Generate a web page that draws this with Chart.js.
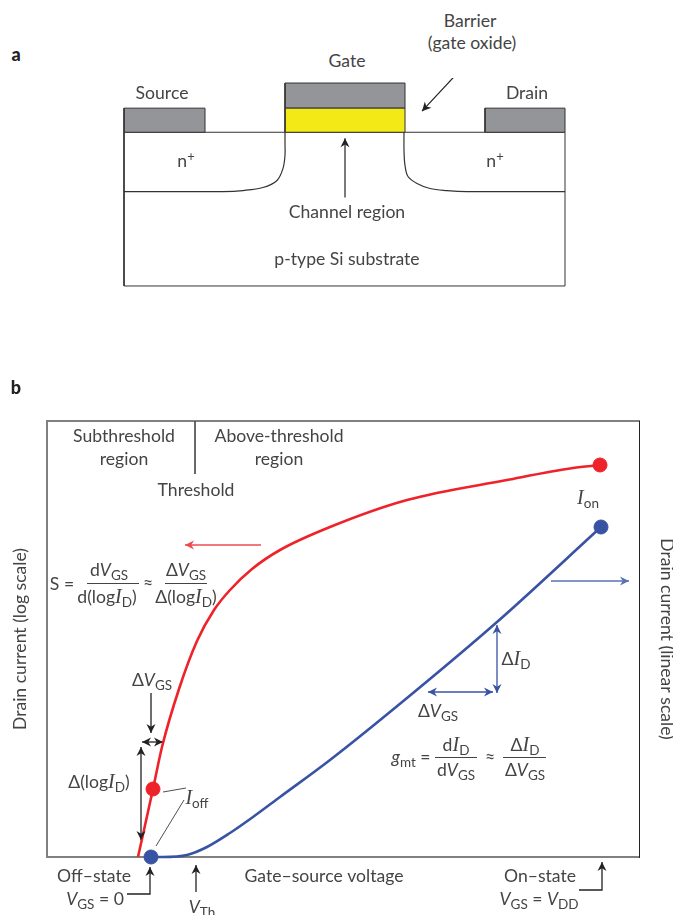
<!DOCTYPE html>
<html>
<head>
<meta charset="utf-8">
<title>MOSFET</title>
<script src="https://cdn.jsdelivr.net/npm/chart.js@4"></script>
<style>
body { margin:0; background:#fff; width:673px; height:915px; position:relative; overflow:hidden;
       font-family:Lato,"Open Sans",sans-serif; font-size:17.6px; color:#444; }
canvas { position:absolute; }
.t { position:absolute; transform:translate(-50%,-50%); white-space:nowrap; line-height:1; }
.b { font-weight:900; color:#222; font-size:18px; }
.r { position:absolute; height:1px; background:#444; }
i { font-style:italic; }
i.s { font-family:"Liberation Serif",serif; font-size:20px; }
sub { font-size:13.5px; vertical-align:-4px; line-height:0; }
sup { font-size:13px; vertical-align:6px; line-height:0; }
</style>
</head>
<body>
<canvas id="schema" width="453" height="212" style="left:120px;top:78px"></canvas>
<canvas id="courbes" width="673" height="535" style="left:0;top:380px"></canvas>

<div class="t b" style="left:16px;top:54px">a</div>
<div class="t b" style="left:16px;top:387px">b</div>
<div class="t" style="left:470px;top:21px">Barrier</div>
<div class="t" style="left:472px;top:43px">(gate oxide)</div>
<div class="t" style="left:347px;top:61px">Gate</div>
<div class="t" style="left:162px;top:93px">Source</div>
<div class="t" style="left:527px;top:93px">Drain</div>
<div class="t" style="left:186px;top:161px">n<sup>+</sup></div>
<div class="t" style="left:495px;top:161px">n<sup>+</sup></div>
<div class="t" style="left:347px;top:212px">Channel region</div>
<div class="t" style="left:347px;top:259px">p-type Si substrate</div>

<div class="t" style="left:124px;top:436px">Subthreshold</div>
<div class="t" style="left:124px;top:459px">region</div>
<div class="t" style="left:279px;top:436px">Above-threshold</div>
<div class="t" style="left:279px;top:459px">region</div>
<div class="t" style="left:196px;top:490px">Threshold</div>

<div class="t" style="left:62px;top:584px">S =</div>
<div class="t" style="left:109px;top:570px">d<i>V</i><sub>GS</sub></div>
<div class="r" style="left:87px;top:583px;width:52px"></div>
<div class="t" style="left:107px;top:596px">d(log<i class="s">I</i><sub>D</sub>)</div>
<div class="t" style="left:148px;top:583px">≈</div>
<div class="t" style="left:186px;top:570px">Δ<i>V</i><sub>GS</sub></div>
<div class="r" style="left:165px;top:583px;width:42px"></div>
<div class="t" style="left:186px;top:596px">Δ(log<i class="s">I</i><sub>D</sub>)</div>

<div class="t" style="left:152px;top:680px">Δ<i>V</i><sub>GS</sub></div>
<div class="t" style="left:99px;top:781px">Δ(log<i class="s">I</i><sub>D</sub>)</div>
<div class="t" style="left:197px;top:797px"><i class="s">I</i><sub>off</sub></div>
<div class="t" style="left:95px;top:899px"><i>V</i><sub>GS</sub> = 0</div>
<div class="t" style="left:202px;top:907px"><i>V</i><sub>Th</sub></div>
<div class="t" style="left:588px;top:497px"><i class="s">I</i><sub>on</sub></div>
<div class="t" style="left:516px;top:658px">Δ<i class="s">I</i><sub>D</sub></div>
<div class="t" style="left:438px;top:711px">Δ<i>V</i><sub>GS</sub></div>

<div class="t" style="left:411px;top:757px"><i>g</i><sub>mt</sub> =</div>
<div class="t" style="left:456px;top:744px">d<i class="s">I</i><sub>D</sub></div>
<div class="r" style="left:435px;top:757px;width:42px"></div>
<div class="t" style="left:456px;top:770px">d<i>V</i><sub>GS</sub></div>
<div class="t" style="left:490px;top:757px">≈</div>
<div class="t" style="left:525px;top:744px">Δ<i class="s">I</i><sub>D</sub></div>
<div class="r" style="left:503px;top:757px;width:43px"></div>
<div class="t" style="left:525px;top:770px">Δ<i>V</i><sub>GS</sub></div>
<div class="t" style="left:539px;top:899px"><i>V</i><sub>GS</sub> = <i>V</i><sub>DD</sub></div>

<script>
// --- courbes (b) : x = tension grille, y = courant, unites arbitraires
var rougeX = [91, 106, 115, 132, 150, 167, 183, 205, 233, 283, 360, 460, 526, 553];
var rougeY = [0, 68, 110, 168, 216, 247, 267, 288, 307, 330, 357, 377, 389, 392];
var bleuX = [104, 116, 140, 160, 183, 206, 233, 283, 360, 450, 554];
var bleuY = [0, 0, 2, 10, 24, 40, 60, 97, 159, 235, 330];
var pointsRougeX = [106, 553];
var pointsRougeY = [68, 392];
var pointsBleuX = [104, 554];
var pointsBleuY = [0, 330];
var xTicks = [47, 277, 493];
var xTickLabels = ["Off–state", "Gate–source voltage", "On–state"];
var seuilX = [148, 148];
var seuilY = [436, 383];

// fleches du panneau b : [x...], [y...]
var flecheRouge = [[214, 138], [312, 312]];
var flecheBleue = [[504, 582], [276, 276]];
var deltaIdBleu = [[450, 450], [232, 164]];
var deltaVgsBleu = [[381, 446], [165, 165]];
var deltaVgsBas = [[104, 104], [164, 124]];
var deltaVgsNoir = [[95, 116], [115, 115]];
var deltaLogNoir = [[94, 94], [110, 17]];
var ioffA = [[116, 139], [65, 69]];
var ioffB = [[109, 137], [11, 57]];
var flecheVgs0 = [[80, 103, 103], [-37, -37, -10]];
var flecheVth = [[149, 149], [-35, -8]];
var flecheOn = [[532, 555, 555], [-33, -33, -5]];

// --- schema (a) : origine en bas a gauche du substrat
var substratX = [0, 441, 441, 0, 0];
var substratY = [0, 0, 153, 153, 0];
var sourceX = [0, 81, 81, 0, 0];
var sourceY = [153, 153, 177, 177, 153];
var drainX = [361, 441, 441, 361, 361];
var drainY = [153, 153, 177, 177, 153];
var oxydeX = [161, 281, 281, 161, 161];
var oxydeY = [153, 153, 177, 177, 153];
var grilleX = [161, 281, 281, 161, 161];
var grilleY = [177, 177, 202, 202, 177];
var jonctionGX = [0, 99, 119, 139, 153, 159, 161, 161, 161];
var jonctionGY = [94, 94, 95, 98, 105, 117, 130, 142, 153];
var jonctionDX = [441, 343, 323, 306, 293, 284, 281, 280, 280];
var jonctionDY = [94, 94, 95, 97, 102, 109, 120, 135, 153];
var flecheCanal = [[221, 221], [88, 147]];
var flecheBarriere = [[342, 298], [221, 174]];

var NOIR = "#222";
var ROUGE = "#ee2229";
var BLEU = "#3953a4";

// pointe de fleche dessinee a partir des points du dataset
function pointe(ctx, a, b, couleur, taille) {
    var ang = Math.atan2(b.y - a.y, b.x - a.x);
    ctx.save();
    ctx.translate(b.x, b.y);
    ctx.rotate(ang);
    ctx.fillStyle = couleur;
    ctx.beginPath();
    ctx.moveTo(0, 0);
    ctx.lineTo(-taille, -taille * 0.5);
    ctx.lineTo(-taille * 0.7, 0);
    ctx.lineTo(-taille, taille * 0.5);
    ctx.closePath();
    ctx.fill();
    ctx.restore();
}

var pluginFleches = {
    id: "fleches",
    afterDatasetsDraw: function (chart) {
        chart.data.datasets.forEach(function (ds, i) {
            if (!ds.fleche) return;
            var pts = chart.getDatasetMeta(i).data;
            var n = pts.length;
            pointe(chart.ctx, pts[n - 2], pts[n - 1], ds.borderColor, 9);
            if (ds.fleche == 2) pointe(chart.ctx, pts[1], pts[0], ds.borderColor, 9);
        });
    }
};

function trait(xs, ys, couleur, largeur, fleche) {
    return {
        data: xs.map(function (x, i) { return { x: x, y: ys[i] }; }),
        showLine: true, borderColor: couleur, borderWidth: largeur,
        pointRadius: 0, clip: false, fill: false, fleche: fleche || 0
    };
}

function rect(xs, ys, remplissage) {
    var d = trait(xs, ys, "#333", 1);
    d.fill = "shape";
    d.backgroundColor = remplissage;
    return d;
}

function courbe(xs, ys, couleur) {
    var d = trait(xs, ys, couleur, 2.6);
    d.cubicInterpolationMode = "monotone";
    return d;
}

function points(xs, ys, couleur) {
    return {
        data: xs.map(function (x, i) { return { x: x, y: ys[i] }; }),
        showLine: false, pointRadius: 7, pointHoverRadius: 7,
        backgroundColor: couleur, borderColor: couleur, clip: false
    };
}

var lisseG = trait(jonctionGX, jonctionGY, "#333", 1.2);
lisseG.tension = 0.35;
var lisseD = trait(jonctionDX, jonctionDY, "#333", 1.2);
lisseD.tension = 0.35;

// le premier dataset de la liste est dessine au dessus des autres
new Chart(document.getElementById("schema"), {
    type: "scatter",
    data: {
        datasets: [
            trait(flecheCanal[0], flecheCanal[1], NOIR, 1.2, 1),
            trait(flecheBarriere[0], flecheBarriere[1], NOIR, 1.2, 1),
            lisseG,
            lisseD,
            rect(oxydeX, oxydeY, "#f3e917"),
            rect(grilleX, grilleY, "#939598"),
            rect(sourceX, sourceY, "#939598"),
            rect(drainX, drainY, "#939598"),
            rect(substratX, substratY, "#fff")
        ]
    },
    options: {
        responsive: false,
        animation: false,
        events: [],
        layout: { padding: 0 },
        plugins: { legend: { display: false }, tooltip: { enabled: false } },
        scales: {
            x: { display: false, min: -4, max: 449 },
            y: { display: false, min: -4, max: 207 }
        }
    },
    plugins: [pluginFleches]
});

new Chart(document.getElementById("courbes"), {
    type: "scatter",
    data: {
        datasets: [
            points(pointsRougeX, pointsRougeY, ROUGE),
            points(pointsBleuX, pointsBleuY, BLEU),
            courbe(rougeX, rougeY, ROUGE),
            courbe(bleuX, bleuY, BLEU),
            trait(seuilX, seuilY, "#555", 1),
            trait(flecheRouge[0], flecheRouge[1], "#ee4b4f", 1.5, 1),
            trait(flecheBleue[0], flecheBleue[1], "#5a72b4", 1.5, 1),
            trait(deltaIdBleu[0], deltaIdBleu[1], BLEU, 1.3, 2),
            trait(deltaVgsBleu[0], deltaVgsBleu[1], BLEU, 1.3, 2),
            trait(deltaVgsBas[0], deltaVgsBas[1], NOIR, 1.3, 1),
            trait(deltaVgsNoir[0], deltaVgsNoir[1], NOIR, 1.3, 2),
            trait(deltaLogNoir[0], deltaLogNoir[1], NOIR, 1.3, 2),
            trait(ioffA[0], ioffA[1], NOIR, 0.8),
            trait(ioffB[0], ioffB[1], NOIR, 0.8),
            trait(flecheVgs0[0], flecheVgs0[1], NOIR, 1.3, 1),
            trait(flecheVth[0], flecheVth[1], NOIR, 1.3, 1),
            trait(flecheOn[0], flecheOn[1], NOIR, 1.3, 1)
        ]
    },
    options: {
        responsive: false,
        animation: false,
        events: [],
        layout: { padding: { top: 41, left: 0, right: 0, bottom: 0 } },
        plugins: { legend: { display: false }, tooltip: { enabled: false } },
        scales: {
            x: {
                min: 0, max: 592,
                grid: { display: false },
                border: { color: "#808080", width: 2 },
                afterFit: function (s) { s.height = 58; },
                afterBuildTicks: function (s) {
                    s.ticks = xTicks.map(function (v) { return { value: v }; });
                },
                ticks: {
                    autoSkip: false, maxRotation: 0, padding: 1, color: "#444",
                    font: { family: "Lato", size: 17.6 },
                    callback: function (v, i) { return xTickLabels[i]; }
                }
            },
            xTop: {
                position: "top", min: 0, max: 592,
                grid: { display: false },
                border: { color: "#808080", width: 2 },
                ticks: { display: false },
                afterFit: function (s) { s.height = 0; }
            },
            y: {
                min: 0, max: 436,
                grid: { display: false },
                border: { color: "#808080", width: 2 },
                ticks: { display: false },
                afterFit: function (s) { s.width = 47; },
                title: {
                    display: true, text: "Drain current (log scale)", color: "#444",
                    font: { family: "Lato", size: 17.6 }, padding: { top: 10, bottom: 0 }
                }
            },
            yRight: {
                position: "right", min: 0, max: 436,
                grid: { display: false },
                border: { color: "#222", width: 1 },
                ticks: { display: false },
                afterFit: function (s) { s.width = 34; },
                title: {
                    display: true, text: "Drain current (linear scale)", color: "#444",
                    font: { family: "Lato", size: 17.6 }, padding: { top: -4, bottom: 0 }
                }
            }
        }
    },
    plugins: [pluginFleches]
});
</script>
</body>
</html>
